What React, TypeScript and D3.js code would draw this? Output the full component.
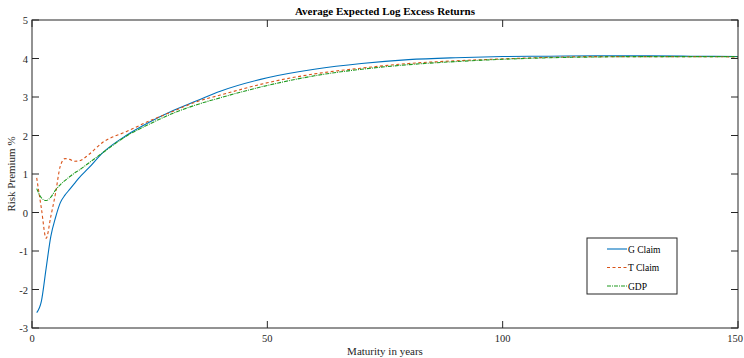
import React from "react";
import * as d3 from "d3";

// maturities in years
const maturities = [1, 2, 3, 4, 5, 6, 7, 8, 9, 10, 12, 15, 20, 25, 30, 35, 40, 50, 60, 70, 80, 90, 100, 110, 120, 130, 140, 150];

const gClaim = [-2.6, -2.3, -1.45, -0.62, -0.13, 0.25, 0.45, 0.6, 0.75, 0.9, 1.15, 1.55, 2.0, 2.35, 2.65, 2.9, 3.15, 3.5, 3.72, 3.87, 3.97, 4.02, 4.05, 4.06, 4.07, 4.07, 4.06, 4.05];
const tClaim = [0.9, 0.1, -0.67, -0.1, 0.5, 1.2, 1.4, 1.38, 1.33, 1.34, 1.5, 1.82, 2.1, 2.38, 2.63, 2.88, 3.05, 3.37, 3.6, 3.75, 3.87, 3.94, 3.99, 4.03, 4.05, 4.05, 4.05, 4.04];
const gdp = [0.62, 0.38, 0.31, 0.4, 0.58, 0.72, 0.83, 0.93, 1.02, 1.1, 1.28, 1.55, 1.98, 2.3, 2.58, 2.8, 2.98, 3.3, 3.55, 3.72, 3.84, 3.92, 3.98, 4.02, 4.04, 4.05, 4.05, 4.05];

const xTicks = [0, 50, 100, 150];
const yTicks = [-3, -2, -1, 0, 1, 2, 3, 4, 5];

const series = [
  { name: "G Claim", values: gClaim, color: "#0072BD", dash: "none" },
  { name: "T Claim", values: tClaim, color: "#D95319", dash: "3,2.5" },
  { name: "GDP", values: gdp, color: "#1f9a1f", dash: "4,1,1,1" },
];

const W = 744;
const H = 358;
const margin = { top: 20, right: 6, bottom: 30, left: 32 };
const FONT = "'Liberation Serif', 'Times New Roman', serif";
const AXIS = "#262626";

export default function App() {
  const x = d3.scaleLinear().domain([0, 150]).range([margin.left, W - margin.right]);
  const y = d3.scaleLinear().domain([-3, 5]).range([H - margin.bottom, margin.top]);
  const tick = 7;

  const line = (vals: number[]) =>
    d3
      .line<number>()
      .x((_d, i) => x(maturities[i]))
      .y((d) => y(d))
      .curve(d3.curveMonotoneX)(vals) ?? "";

  const [x0, x1] = x.range();
  const [y0, y1] = y.range();

  // legend placement
  const lg = { x: 587, y: 238, w: 90, h: 56 };

  return (
    <div style={{ position: "absolute", left: 0, top: 0 }}>
      <svg width={W} height={H} style={{ display: "block", background: "#fff" }} fontFamily={FONT}>
        <defs>
          <clipPath id="plot">
            <rect x={x0} y={y1} width={x1 - x0} height={y0 - y1} />
          </clipPath>
        </defs>

        {/* curves */}
        <g clipPath="url(#plot)">
          {series.map((s) => (
            <path
              key={s.name}
              d={line(s.values)}
              fill="none"
              stroke={s.color}
              strokeWidth={1.1}
              strokeDasharray={s.dash}
            />
          ))}
        </g>

        {/* box + ticks */}
        <rect x={x0} y={y1} width={x1 - x0} height={y0 - y1} fill="none" stroke={AXIS} strokeWidth={1} />
        {xTicks.map((t) => (
          <g key={"x" + t}>
            <line x1={x(t)} x2={x(t)} y1={y0} y2={y0 - tick} stroke={AXIS} />
            <line x1={x(t)} x2={x(t)} y1={y1} y2={y1 + tick} stroke={AXIS} />
            <text x={Math.min(x(t), W - 9)} y={y0 + 14} textAnchor="middle" fontSize={10.5} fill={AXIS}>
              {t}
            </text>
          </g>
        ))}
        {yTicks.map((t) => (
          <g key={"y" + t}>
            <line x1={x0} x2={x0 + tick} y1={y(t)} y2={y(t)} stroke={AXIS} />
            <line x1={x1} x2={x1 - tick} y1={y(t)} y2={y(t)} stroke={AXIS} />
            <text x={x0 - 4} y={y(t) + 4} textAnchor="end" fontSize={10.5} fill={AXIS}>
              {t}
            </text>
          </g>
        ))}

        {/* titles */}
        <text x={(x0 + x1) / 2} y={15} textAnchor="middle" fontSize={11} fontWeight="bold" fill="#000">
          Average Expected Log Excess Returns
        </text>
        <text x={(x0 + x1) / 2} y={H - 3} textAnchor="middle" fontSize={11} fill={AXIS}>
          Maturity in years
        </text>
        <text
          transform={`translate(15,${(y0 + y1) / 2}) rotate(-90)`}
          textAnchor="middle"
          fontSize={11}
          fill={AXIS}
        >
          Risk Premium %
        </text>

        {/* legend */}
        <rect x={lg.x} y={lg.y} width={lg.w} height={lg.h} fill="#fff" stroke={AXIS} strokeWidth={1} />
        {series.map((s, i) => {
          const ry = lg.y + 11 + i * 18.5;
          return (
            <g key={"lg" + s.name}>
              <line x1={lg.x + 20} x2={lg.x + 40} y1={ry} y2={ry} stroke={s.color} strokeWidth={1.1} strokeDasharray={s.dash} />
              <text x={lg.x + 41} y={ry + 3.5} fontSize={9.5} fill="#000">
                {s.name}
              </text>
            </g>
          );
        })}
      </svg>
    </div>
  );
}
